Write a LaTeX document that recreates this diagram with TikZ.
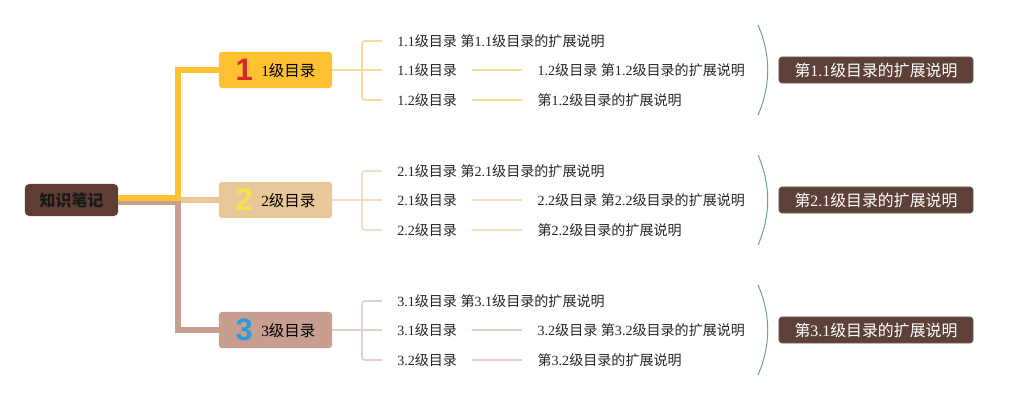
\documentclass[tikz,border=0pt]{standalone}
\usepackage{fontspec}
\setmainfont{Liberation Serif}
\newfontfamily\cjk{Noto Sans CJK SC}
\newfontfamily\numfont{Liberation Sans}
\newcommand{\zh}[1]{{\cjk #1}}
\usetikzlibrary{positioning}

\definecolor{rootbrown}{HTML}{5E3E33}
\definecolor{notebrown}{HTML}{5D4037}
\definecolor{lvla}{HTML}{FDC132}
\definecolor{lvlb}{HTML}{EAC796}
\definecolor{lvlc}{HTML}{C79E8F}
\definecolor{twiga}{HTML}{F8DA92}
\definecolor{twigb}{HTML}{EFDFC7}
\definecolor{twigc}{HTML}{E3CFC9}
\definecolor{numa}{HTML}{D9262C}
\definecolor{numb}{HTML}{F5E24A}
\definecolor{numc}{HTML}{2B9CD8}
\definecolor{bracegreen}{HTML}{6E9F94}

\begin{document}
\begin{tikzpicture}[
      x=0.025cm, y=-0.025cm,
      font=\fontsize{10pt}{12pt}\selectfont,
      root/.style={fill=rootbrown, rounded corners=3pt, minimum width=2.325cm,
        minimum height=.8cm, text=black!90,
        font=\fontsize{11.3pt}{13pt}\selectfont\cjk\bfseries},
      lvl/.style={rounded corners=2pt, minimum width=2.825cm, minimum height=.9cm,
        inner sep=0pt, font=\fontsize{11pt}{13pt}\selectfont},
      leaf/.style={anchor=west, inner xsep=.375cm, inner ysep=0pt, text=black!85},
      note/.style={fill=notebrown, draw=notebrown!85!white, rounded corners=2pt,
        minimum width=4.85cm, minimum height=.65cm, inner sep=0pt, text=white,
        font=\fontsize{11.3pt}{13pt}\selectfont},
      trunk/.style={line width=4pt},
      twig/.style={line width=1.1pt},
      brace/.style={draw=bracegreen, line width=.7pt}]

    % canvas
    \useasboundingbox (0,0) rectangle (1019,400);

    % root
    \node[root] (root) at (71.5,200) {知识笔记};
    \coordinate (fork) at (178,200);

    % level 1 y=70
    \node[lvl, fill=lvla] (b1) at (275.5,70)
      {\raisebox{-3pt}{\textcolor{numa}{\numfont\bfseries\fontsize{22pt}{22pt}\selectfont 1}}\hspace{6pt}1\zh{级目录}};
    % level 2 y=200
    \node[lvl, fill=lvlb] (b2) at (275.5,200)
      {\raisebox{-3pt}{\textcolor{numb}{\numfont\bfseries\fontsize{22pt}{22pt}\selectfont 2}}\hspace{6pt}2\zh{级目录}};
    % level 3 y=330
    \node[lvl, fill=lvlc] (b3) at (275.5,330)
      {\raisebox{-3pt}{\textcolor{numc}{\numfont\bfseries\fontsize{22pt}{22pt}\selectfont 3}}\hspace{6pt}3\zh{级目录}};

    % wiring (root - levels)
    \draw[trunk, draw=lvlb] (root.east) -- (b2.west);
    \draw[trunk, draw=lvlc] ([yshift=-1.3pt]root.east) -- ([yshift=-1.3pt]fork) |- (b3.west);
    \draw[trunk, draw=lvla] ([yshift=1.3pt]root.east) -- ([yshift=1.3pt]fork) |- (b1.west);

    % leaves level 1
    \node[leaf] (a11) at (382,41) {1.1\zh{级目录} \zh{第}1.1\zh{级目录的扩展说明}};
    \node[leaf] (a12) at (382,70) {1.1\zh{级目录}};
    \node[leaf] (a13) at (382,100) {1.2\zh{级目录}};
    \node[leaf, right=1.25cm of a12] (a12r) {1.2\zh{级目录} \zh{第}1.2\zh{级目录的扩展说明}};
    \node[leaf, right=1.25cm of a13] (a13r) {\zh{第}1.2\zh{级目录的扩展说明}};
    \coordinate (j1) at (362,70);

    % leaves level 2
    \node[leaf] (c11) at (382,171) {2.1\zh{级目录} \zh{第}2.1\zh{级目录的扩展说明}};
    \node[leaf] (c12) at (382,200) {2.1\zh{级目录}};
    \node[leaf] (c13) at (382,230) {2.2\zh{级目录}};
    \node[leaf, right=1.25cm of c12] (c12r) {2.2\zh{级目录} \zh{第}2.2\zh{级目录的扩展说明}};
    \node[leaf, right=1.25cm of c13] (c13r) {\zh{第}2.2\zh{级目录的扩展说明}};
    \coordinate (j2) at (362,200);

    % leaves level 3
    \node[leaf] (d11) at (382,301) {3.1\zh{级目录} \zh{第}3.1\zh{级目录的扩展说明}};
    \node[leaf] (d12) at (382,330) {3.1\zh{级目录}};
    \node[leaf] (d13) at (382,360) {3.2\zh{级目录}};
    \node[leaf, right=1.25cm of d12] (d12r) {3.2\zh{级目录} \zh{第}3.2\zh{级目录的扩展说明}};
    \node[leaf, right=1.25cm of d13] (d13r) {\zh{第}3.2\zh{级目录的扩展说明}};
    \coordinate (j3) at (362,330);

    % wiring (levels - leaves)
    \draw[twig, draw=twiga] (b1.east) -- (a12.west);
    \draw[twig, draw=twiga, rounded corners=2pt] (a11.west) -| (j1) |- (a13.west);
    \draw[twig, draw=twiga] (a12.east) -- (a12r.west);
    \draw[twig, draw=twiga] (a13.east) -- (a13r.west);

    \draw[twig, draw=twigb] (b2.east) -- (c12.west);
    \draw[twig, draw=twigb, rounded corners=2pt] (c11.west) -| (j2) |- (c13.west);
    \draw[twig, draw=twigb] (c12.east) -- (c12r.west);
    \draw[twig, draw=twigb] (c13.east) -- (c13r.west);

    \draw[twig, draw=twigc] (b3.east) -- (d12.west);
    \draw[twig, draw=twigc, rounded corners=2pt] (d11.west) -| (j3) |- (d13.west);
    \draw[twig, draw=twigc] (d12.east) -- (d12r.west);
    \draw[twig, draw=twigc] (d13.east) -- (d13r.west);

    % summaries
    \draw[brace] (758,25) .. controls (771,55) and (771,85) .. (758,115);
    \node[note] (n1) at (876,70) {\zh{第}1.1\zh{级目录的扩展说明}};
    \draw[brace] (758,155) .. controls (771,185) and (771,215) .. (758,245);
    \node[note] (n2) at (876,200) {\zh{第}2.1\zh{级目录的扩展说明}};
    \draw[brace] (758,285) .. controls (771,315) and (771,345) .. (758,375);
    \node[note] (n3) at (876,330) {\zh{第}3.1\zh{级目录的扩展说明}};

  \end{tikzpicture}
\end{document}
